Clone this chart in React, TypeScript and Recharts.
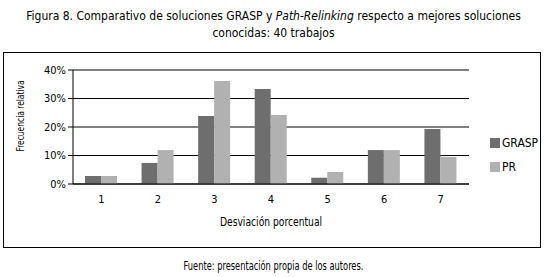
import React from 'react';
import { BarChart, Bar, XAxis, YAxis, CartesianGrid } from 'recharts';

const categories = ['1', '2', '3', '4', '5', '6', '7'];
const graspValues = [2.8, 7.4, 23.9, 33.3, 2.2, 11.9, 19.3];
const prValues = [2.8, 11.9, 36.1, 24.2, 4.2, 11.9, 9.5];
const yTicks = [0, 10, 20, 30, 40];
const seriesNames = ['GRASP', 'PR'];
const seriesColors = ['#6e6e6e', '#b1b1b1'];

const data = categories.map((c, i) => ({ name: c, GRASP: graspValues[i], PR: prValues[i] }));

const FONT = '"DejaVu Sans", sans-serif';
const textStyle: React.CSSProperties = { fontFamily: FONT, fontStretch: 'condensed' };

const App: React.FC = () => {
  return (
    <div style={{ position: 'absolute', left: 0, top: 0, width: 547, height: 277, background: '#fff', color: '#000', ...textStyle }}>
      <div style={{ position: 'absolute', left: 0, top: 8, width: 547, textAlign: 'center', fontSize: 12, lineHeight: '17px' }}>
        Figura 8. Comparativo de soluciones GRASP y <i>Path-Relinking</i> respecto a mejores soluciones
        <br />
        conocidas: 40 trabajos
      </div>

      <div style={{ position: 'absolute', left: 3, top: 52, width: 536, height: 194, border: '1.5px solid #000' }} />

      <div style={{ position: 'absolute', left: 0, top: 0 }}>
        <BarChart
          width={547}
          height={277}
          data={data}
          margin={{ top: 70, right: 78, left: 23, bottom: 63 }}
          barGap={0}
        >
          <CartesianGrid vertical={false} stroke="#000" strokeWidth={1.2} />
          <XAxis
            dataKey="name"
            height={30}
            axisLine={{ stroke: '#000' }}
            tickLine={false}
            tick={{ fill: '#000', fontSize: 11, style: textStyle }}
            dy={3}
          />
          <YAxis
            width={50}
            domain={[0, 40]}
            ticks={yTicks}
            interval={0}
            tickFormatter={(v: number) => `${v}%`}
            axisLine={{ stroke: '#000' }}
            tickLine={{ stroke: '#000' }}
            tickSize={5}
            tick={{ fill: '#000', fontSize: 11, style: textStyle }}
          />
          <Bar dataKey="GRASP" name="GRASP" fill={seriesColors[0]} barSize={16} isAnimationActive={false} />
          <Bar dataKey="PR" name="PR" fill={seriesColors[1]} barSize={16} isAnimationActive={false} />
        </BarChart>
      </div>

      <div style={{ position: 'absolute', left: 490, top: 137, fontSize: 12 }}>
        {seriesNames.map((n, i) => (
          <div key={n} style={{ display: 'flex', alignItems: 'center', height: 12, marginBottom: 12 }}>
            <span style={{ width: 10, height: 10, background: seriesColors[i], display: 'inline-block', marginRight: 2 }} />
            <span>{n}</span>
          </div>
        ))}
      </div>

      <div style={{ position: 'absolute', left: 20, top: 116, transform: 'translate(-50%, -50%) rotate(-90deg) scaleX(0.76)', fontSize: 11, whiteSpace: 'nowrap' }}>
        Frecuencia relativa
      </div>
      <div style={{ position: 'absolute', left: 73, width: 396, top: 215, textAlign: 'center', fontSize: 12, transform: 'scaleX(0.85)' }}>
        Desviación porcentual
      </div>
      <div style={{ position: 'absolute', left: 0, width: 547, top: 259, textAlign: 'center', fontSize: 11.5, transform: 'scaleX(0.8)' }}>
        Fuente: presentación propia de los autores.
      </div>
    </div>
  );
};

export default App;
